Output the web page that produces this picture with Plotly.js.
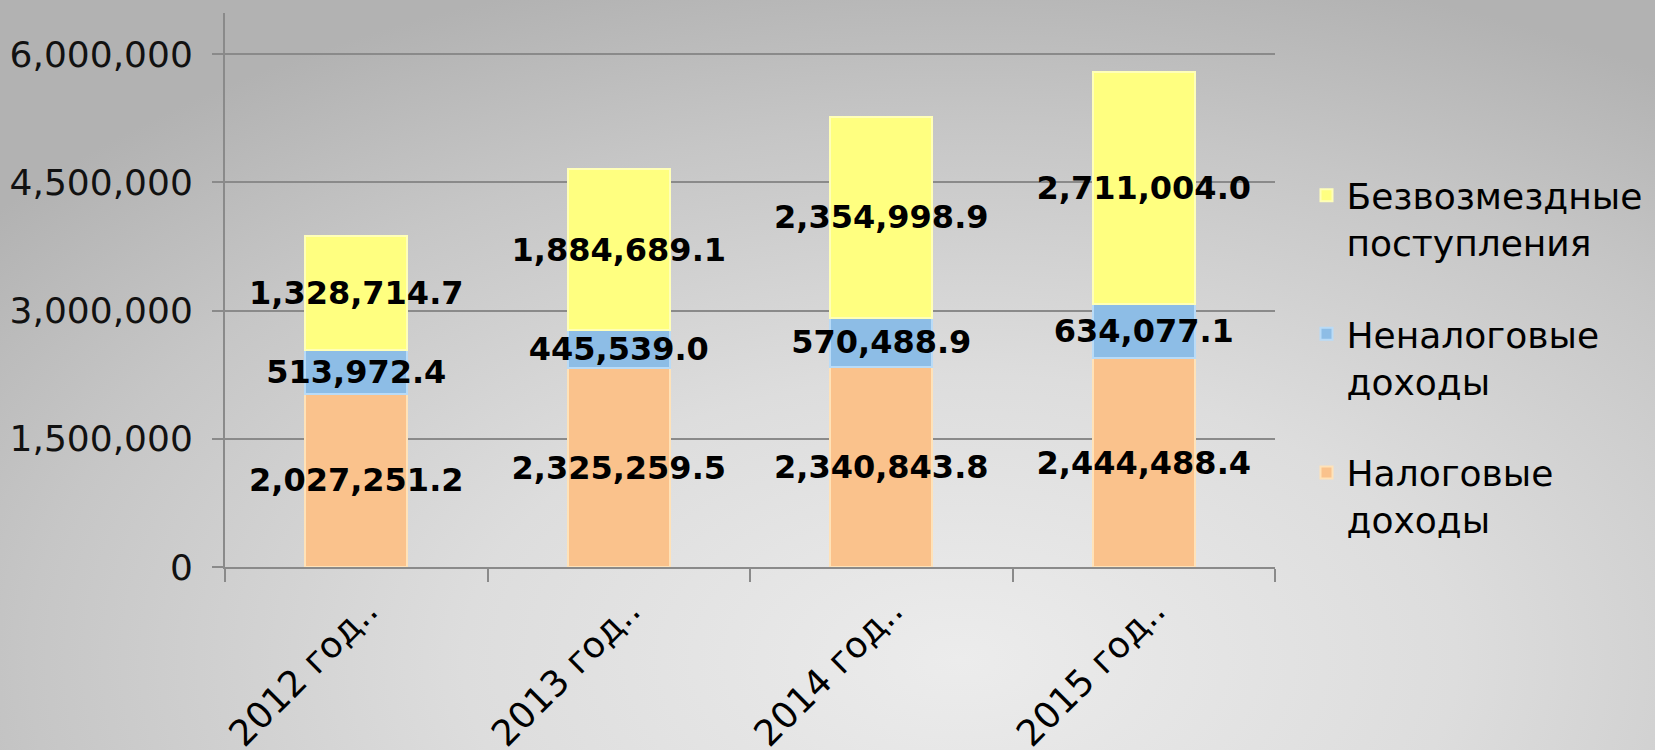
<!DOCTYPE html>
<html>
<head>
<meta charset="utf-8">
<script src="https://cdn.plot.ly/plotly-3.0.1.min.js"></script>
<style>
  html, body { margin: 0; padding: 0; }
  body {
    width: 1655px; height: 750px; overflow: hidden;
    background: radial-gradient(ellipse 75% 95% at 58% 88%, #ececec 0%, #dddddd 40%, #c6c6c6 75%, #b2b2b2 100%);
  }
  #chart { width: 1655px; height: 750px; }
</style>
</head>
<body>
<div id="chart"></div>
<script>
const categories = ['2012 год..', '2013 год..', '2014 год..', '2015 год..'];
const taxIncome = [2027251.2, 2325259.5, 2340843.8, 2444488.4];
const nonTaxIncome = [513972.4, 445539.0, 570488.9, 634077.1];
const grants = [1328714.7, 1884689.1, 2354998.9, 2711004.0];
const seriesNames = ['Налоговые<br>доходы', 'Неналоговые<br>доходы', 'Безвозмездные<br>поступления'];
const yTicks = [0, 1500000, 3000000, 4500000, 6000000];

const labelFont = { family: 'DejaVu Sans', size: 32, color: '#000000' };
function barTrace(vals, name, color, edge, group, rank) {
  return {
    type: 'bar', x: categories, y: vals, name: name, legendgroup: group, legendrank: rank,
    marker: { color: color, line: { color: edge, width: 2 } },
    texttemplate: '<b>%{y:,.1f}</b>', textposition: 'inside',
    insidetextanchor: 'middle', constraintext: 'none', textangle: 0,
    insidetextfont: labelFont, cliponaxis: false, hoverinfo: 'skip'
  };
}
const data = [
  barTrace(taxIncome, seriesNames[0], '#FAC28C', '#FFE2B8', 'a', 3),
  barTrace(nonTaxIncome, seriesNames[1], '#8DBDE6', '#B9DBF7', 'b', 2),
  barTrace(grants, seriesNames[2], '#FFFF80', '#FFFFB8', 'c', 1)
];
const layout = {
  width: 1655, height: 750,
  paper_bgcolor: 'rgba(0,0,0,0)', plot_bgcolor: 'rgba(0,0,0,0)',
  margin: { l: 225, r: 380, t: 13, b: 183, autoexpand: false },
  barmode: 'stack', bargap: 0.61,
  font: { family: 'DejaVu Sans', color: '#111111' },
  xaxis: {
    type: 'category', tickangle: -45, tickson: 'boundaries', ticks: 'outside',
    ticklen: 13, tickwidth: 2, tickcolor: '#8a8a8a',
    showline: true, linecolor: '#8a8a8a', linewidth: 2,
    ticklabelstandoff: 6, ticklabelshift: 11,
    showgrid: false, tickfont: { family: 'DejaVu Sans', size: 36, color: '#000' }
  },
  yaxis: {
    range: [0, 6480000], tickvals: yTicks, tickformat: ',d',
    ticks: 'outside', ticklen: 11, tickwidth: 2, tickcolor: '#8a8a8a',
    showline: true, linecolor: '#8a8a8a', linewidth: 2,
    showgrid: true, gridcolor: '#8a8a8a', gridwidth: 2, zeroline: false,
    ticklabelstandoff: 12,
    tickfont: { family: 'DejaVu Sans', size: 36, color: '#111' }
  },
  showlegend: true,
  legend: {
    x: 1.03, xanchor: 'left', y: 0.725, yanchor: 'top',
    traceorder: 'grouped', tracegroupgap: 42, valign: 'top',
    bgcolor: 'rgba(0,0,0,0)', font: { family: 'DejaVu Sans', size: 36, color: '#000' }
  }
};
Plotly.newPlot('chart', data, layout, { displayModeBar: false, staticPlot: true });
</script>
</body>
</html>
